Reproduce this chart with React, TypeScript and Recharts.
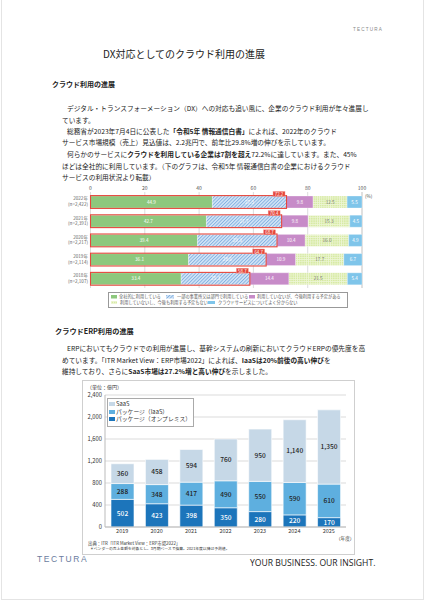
import React from 'react';
import { BarChart, Bar, XAxis, YAxis, CartesianGrid, LabelList } from 'recharts';

// ---- Chart 1: cloud usage (令和5年 情報通信白書) ----
const usageYears = ['2022年', '2021年', '2020年', '2019年', '2018年'];
const usageSamples = ['(n=2,422)', '(n=2,391)', '(n=2,217)', '(n=2,114)', '(n=2,107)'];
const usageAll = [44.9, 42.7, 39.4, 36.1, 33.4];
const usagePart = [27.3, 27.7, 29.3, 28.6, 25.3];
const usagePlan = [9.8, 9.8, 10.4, 10.9, 14.4];
const usageNoPlan = [12.5, 15.3, 16.0, 17.7, 21.5];
const usageUnknown = [5.5, 4.5, 4.9, 6.7, 5.4];
const usageTicks = [0, 20, 40, 60, 80, 100];
const usageLegend = [
  '全社的に利用している',
  '一部の事業所又は部門で利用している',
  '利用していないが、今後利用する予定がある',
  '利用していないし、今後も利用する予定もない',
  'クラウドサービスについてよく分からない',
];

// ---- Chart 2: ERP market (ITR) ----
const erpYears = ['2019', '2020', '2021', '2022', '2023', '2024', '2025'];
const erpOnPrem = [502, 423, 398, 350, 280, 220, 170];
const erpIaaS = [288, 348, 417, 490, 550, 590, 610];
const erpSaaS = [360, 458, 594, 760, 950, 1140, 1350];
const erpTicks = [0, 400, 800, 1200, 1600, 2000, 2400];
const erpLegend = ['SaaS', 'パッケージ（IaaS）', 'パッケージ（オンプレミス）'];

const usageData = usageYears.map((year, i) => ({
  year,
  n: usageSamples[i],
  all: usageAll[i],
  part: usagePart[i],
  plan: usagePlan[i],
  noPlan: usageNoPlan[i],
  unknown: usageUnknown[i],
}));

const erpData = erpYears.map((year, i) => ({
  year,
  onPrem: erpOnPrem[i],
  iaas: erpIaaS[i],
  saas: erpSaaS[i],
}));

const JP = '"Noto Sans CJK JP", "Noto Sans", sans-serif';

const C = {
  green: '#8dc87d',
  hatchBg: '#d3e5f6',
  hatchFg: '#82b0e2',
  purple: '#c78bc8',
  lgreen: '#d7eaa4',
  lblue: '#7fc5ea',
  red: '#e5473c',
  onPrem: '#1c75bb',
  iaas: '#5eafdf',
  saas: '#c6d8e7',
};

const f1 = (v: any) => Number(v).toFixed(1);
const fc = (v: any) => Number(v).toLocaleString('en-US');

const UsageTick = (props: any) => {
  const { x, y, payload } = props;
  const i = usageYears.indexOf(payload.value);
  return (
    <g>
      <text x={x} y={y - 1.2} textAnchor="end" fontSize={4.6} fill="#666" fontFamily={JP}>
        {payload.value}
      </text>
      <text x={x} y={y + 4.4} textAnchor="end" fontSize={4.6} fill="#666" fontFamily={JP}>
        {usageSamples[i]}
      </text>
    </g>
  );
};

const TotalMarker = (props: any) => {
  const vb = props.viewBox || props;
  const x = vb.x, y = vb.y, width = vb.width, height = vb.height;
  let index = props.index;
  if (index === undefined || index === null) {
    index = usageUnknown.indexOf(Number(props.value));
  }
  const row = usageData[index];
  if (!row || !width) return null;
  const ppu = width / row.unknown;
  const x0 = x - (row.all + row.part + row.plan + row.noPlan) * ppu;
  const total = row.all + row.part;
  const x1 = x0 + total * ppu;
  return (
    <g>
      <rect x={x0} y={y - 0.4} width={x1 - x0} height={height + 0.8} fill="none" stroke={C.red} strokeWidth={1.1} />
      <rect x={x1 - 13.5} y={y - 4.6} width={12} height={5} fill={C.red} stroke="#f5a8a2" strokeWidth={0.4} />
      <text x={x1 - 7.5} y={y - 2.1} textAnchor="middle" dominantBaseline="central" fontSize={4.4} fill="#fff" fontFamily={JP}>
        {total.toFixed(1)}
      </text>
    </g>
  );
};

const T = ({ x, y, size, bold, color, family, spacing, children }: any) => (
  <div
    style={{
      position: 'absolute',
      left: x,
      top: y - size * 0.65,
      fontSize: size,
      lineHeight: `${size * 1.3}px`,
      fontWeight: bold ? 700 : 400,
      color: color || '#222',
      fontFamily: family || JP,
      whiteSpace: 'nowrap',
      letterSpacing: spacing || 0,
    }}
  >
    {children}
  </div>
);

const B = ({ children }: any) => <span style={{ fontWeight: 700 }}>{children}</span>;

const Swatch = ({ x, y, w, h, fill }: any) => (
  <svg style={{ position: 'absolute', left: x, top: y }} width={w} height={h}>
    <rect x={0} y={0} width={w} height={h} fill={fill} />
  </svg>
);

export default function App() {
  const P = 6.7;
  return (
    <div
      style={{
        position: 'absolute',
        left: 0,
        top: 0,
        width: 424,
        height: 601,
        background: '#fff',
        overflow: 'hidden',
        fontFamily: JP,
      }}
    >
      <svg width={0} height={0} style={{ position: 'absolute' }}>
        <defs>
          <pattern id="hatch" patternUnits="userSpaceOnUse" width={2.4} height={2.4} patternTransform="rotate(45)">
            <rect width={2.4} height={2.4} fill={C.hatchBg} />
            <rect width={0.9} height={2.4} fill={C.hatchFg} />
          </pattern>
          <pattern id="check" patternUnits="userSpaceOnUse" width={2.2} height={2.2}>
            <rect width={2.2} height={2.2} fill={C.lgreen} />
            <rect width={0.7} height={2.2} fill="#eef6d6" />
            <rect width={2.2} height={0.7} fill="#eef6d6" />
          </pattern>
        </defs>
      </svg>

      <div style={{ position: 'absolute', left: 1, top: -2, width: 421, height: 600, border: '1px solid #e4e4e4' }} />

      <T x={353} y={30} size={4.6} color="#888" family='"Liberation Sans", sans-serif' spacing={1.2}>TECTURA</T>
      <T x={103} y={53} size={10}>DX対応としてのクラウド利用の進展</T>
      <T x={52} y={85} size={7} bold>クラウド利用の進展</T>

      <T x={67} y={108.5} size={P}>デジタル・トランスフォーメーション（DX）への対応も追い風に、企業のクラウド利用が年々進展し</T>
      <T x={62} y={120} size={P}>ています。</T>
      <T x={67} y={131} size={P}>総務省が2023年7月4日に公表した<B>「令和5年 情報通信白書」</B>によれば、2022年のクラウド</T>
      <T x={62} y={142.5} size={P}>サービス市場規模（売上）見込値は、2.2兆円で、前年比29.8%増の伸びを示しています。</T>
      <T x={67} y={154.5} size={P}>何らかのサービスに<B>クラウドを利用している企業は7割を超え</B>72.2%に達しています。また、45%</T>
      <T x={62} y={166} size={P}>ほどは全社的に利用しています。（下のグラフは、令和5年 情報通信白書の企業におけるクラウド</T>
      <T x={62} y={177} size={P}>サービスの利用状況より転載）</T>

      <div style={{ position: 'absolute', left: 20, top: 180 }}>
        <BarChart
          layout="vertical"
          width={352}
          height={108}
          data={usageData}
          margin={{ top: 0, right: 10, bottom: 0, left: 0 }}
          barSize={12}
        >
          <CartesianGrid horizontal={false} stroke="#c4c4c4" strokeWidth={0.6} />
          <XAxis
            type="number"
            orientation="top"
            domain={[0, 100]}
            ticks={usageTicks}
            interval={0}
            height={12}
            axisLine={false}
            tickLine={false}
            tickSize={0}
            tickMargin={2}
            tick={{ fontSize: 5, fill: '#555' }}
          />
          <YAxis
            type="category"
            dataKey="year"
            width={70.5}
            interval={0}
            axisLine={false}
            tickLine={false}
            tickSize={0}
            tickMargin={2.5}
            tick={<UsageTick />}
          />
          <Bar dataKey="all" stackId="u" fill={C.green} stroke="#fff" strokeWidth={0.3} isAnimationActive={false}>
            <LabelList dataKey="all" position="center" fill="#fff" fontSize={4.6} formatter={f1} />
          </Bar>
          <Bar dataKey="part" stackId="u" fill="url(#hatch)" stroke="#fff" strokeWidth={0.3} isAnimationActive={false}>
            <LabelList dataKey="part" position="center" fill="#fff" fontSize={4.6} formatter={f1} />
          </Bar>
          <Bar dataKey="plan" stackId="u" fill={C.purple} stroke="#fff" strokeWidth={0.3} isAnimationActive={false}>
            <LabelList dataKey="plan" position="center" fill="#fff" fontSize={4.6} formatter={f1} />
          </Bar>
          <Bar dataKey="noPlan" stackId="u" fill="url(#check)" stroke="#fff" strokeWidth={0.3} isAnimationActive={false}>
            <LabelList dataKey="noPlan" position="center" fill="#777" fontSize={4.6} formatter={f1} />
          </Bar>
          <Bar dataKey="unknown" stackId="u" fill={C.lblue} stroke="#fff" strokeWidth={0.3} isAnimationActive={false}>
            <LabelList dataKey="unknown" position="center" fill="#fff" fontSize={4.6} formatter={f1} />
            <LabelList dataKey="unknown" content={<TotalMarker />} />
          </Bar>
        </BarChart>
      </div>
      <T x={365} y={196} size={4.6} color="#555">(%)</T>

      <div style={{ position: 'absolute', left: 108, top: 292, width: 238, height: 14, border: '0.6px solid #999', background: '#fff' }} />
      <Swatch x={111} y={295} w={6} h={3.5} fill={C.green} />
      <T x={119} y={297} size={4.2} color="#555">{usageLegend[0]}</T>
      <Swatch x={166} y={295} w={8} h={3.5} fill="url(#hatch)" />
      <T x={177} y={297} size={4.2} color="#555">{usageLegend[1]}</T>
      <Swatch x={249} y={295} w={6} h={3.5} fill={C.purple} />
      <T x={257} y={297} size={4.2} color="#555">{usageLegend[2]}</T>
      <Swatch x={111} y={300.5} w={6} h={3.5} fill="url(#check)" />
      <T x={120} y={302.3} size={4.2} color="#555">{usageLegend[3]}</T>
      <Swatch x={208} y={300.5} w={7} h={3.5} fill={C.lblue} />
      <T x={218} y={302.3} size={4.2} color="#555">{usageLegend[4]}</T>

      <T x={55} y={332} size={7.2} bold>クラウドERP利用の進展</T>
      <T x={67} y={348.5} size={P}>ERPにおいてもクラウドでの利用が進展し、基幹システムの刷新においてクラウドERPの優先度を高</T>
      <T x={62} y={360} size={P}>めています。「ITR Market View：ERP市場2022」によれば、<B>IaaSは20%前後の高い伸び</B>を</T>
      <T x={62} y={371} size={P}>維持しており、さらに<B>SaaS市場は27.2%増と高い伸び</B>を示しました。</T>

      <div style={{ position: 'absolute', left: 82, top: 380, width: 271, height: 173, border: '0.8px solid #cfcfcf' }} />
      <T x={87} y={387} size={5} color="#333">（単位：億円）</T>
      <div style={{ position: 'absolute', left: 60, top: 385 }}>
        <BarChart
          width={290}
          height={160}
          data={erpData}
          margin={{ top: 10, right: 4, bottom: 6, left: 0 }}
          barSize={23}
        >
          <CartesianGrid vertical={false} stroke="#d2d2d2" strokeWidth={0.8} />
          <XAxis
            dataKey="year"
            height={12}
            interval={0}
            axisLine={{ stroke: '#bbb' }}
            tickLine={false}
            tickSize={0}
            tickMargin={2}
            tick={{ fontSize: 5.5, fill: '#333' }}
          />
          <YAxis
            domain={[0, 2400]}
            ticks={erpTicks}
            interval={0}
            width={45}
            axisLine={{ stroke: '#bbb' }}
            tickLine={false}
            tickSize={0}
            tickMargin={3}
            tickFormatter={fc}
            tick={{ fontSize: 5.8, fill: '#333' }}
          />
          <YAxis
            yAxisId="frame"
            orientation="right"
            domain={[0, 2400]}
            width={0}
            tick={false}
            tickLine={false}
            axisLine={{ stroke: '#d2d2d2' }}
          />
          <Bar dataKey="onPrem" stackId="e" fill={C.onPrem} stroke="#fff" strokeWidth={0.6} isAnimationActive={false}>
            <LabelList dataKey="onPrem" position="center" fill="#fff" fontSize={6.6} fontWeight={500} formatter={fc} />
          </Bar>
          <Bar dataKey="iaas" stackId="e" fill={C.iaas} stroke="#fff" strokeWidth={0.6} isAnimationActive={false}>
            <LabelList dataKey="iaas" position="center" fill="#222" fontSize={6.6} fontWeight={500} formatter={fc} />
          </Bar>
          <Bar dataKey="saas" stackId="e" fill={C.saas} stroke="#fff" strokeWidth={0.6} isAnimationActive={false}>
            <LabelList dataKey="saas" position="center" fill="#222" fontSize={6.6} fontWeight={500} formatter={fc} />
          </Bar>
        </BarChart>
      </div>
      <T x={336} y={538} size={4.6} color="#333">（年度）</T>

      <div style={{ position: 'absolute', left: 107, top: 398, width: 85, height: 27, border: '0.6px solid #aaa', background: '#fff' }} />
      <Swatch x={109} y={402} w={6} h={4} fill={C.saas} />
      <T x={116} y={404} size={5.8} color="#333">{erpLegend[0]}</T>
      <Swatch x={109} y={409.5} w={6} h={4} fill={C.iaas} />
      <T x={116} y={411.5} size={5.8} color="#333">{erpLegend[1]}</T>
      <Swatch x={109} y={417} w={6} h={4} fill={C.onPrem} />
      <T x={116} y={419} size={5.8} color="#333">{erpLegend[2]}</T>

      <T x={88} y={544} size={4.4} color="#333">出典：ITR「ITR Market View：ERP市場2022」</T>
      <T x={90} y={549} size={3.8} color="#333">＊ベンダーの売上金額を対象とし、3月期ベースで換算。2021年度以降は予測値。</T>

      <T x={37} y={560} size={8.5} color="#6b7c9e" family='"Liberation Sans", sans-serif' spacing={1.6}>TECTURA</T>
      <T x={250} y={564} size={8.6} color="#222" family='"Open Sans", sans-serif'>YOUR BUSINESS. OUR INSIGHT.</T>
    </div>
  );
}
